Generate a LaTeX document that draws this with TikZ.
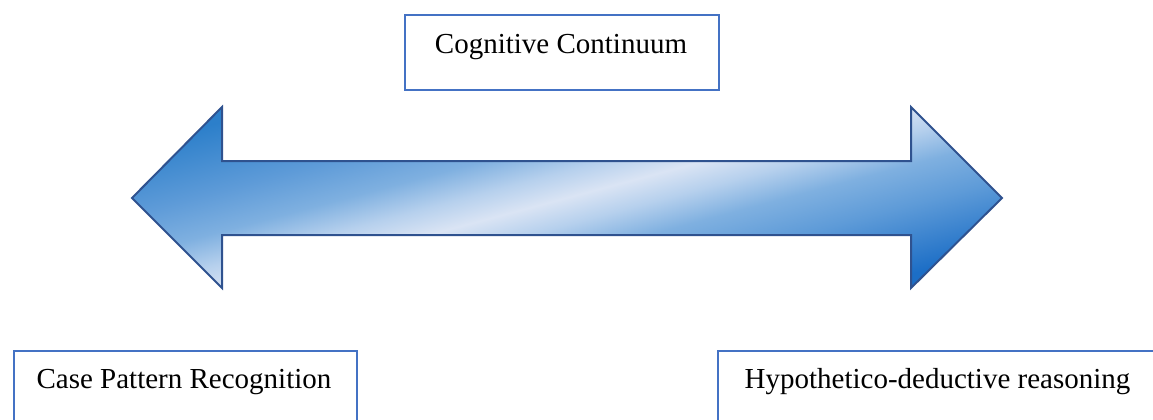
\documentclass[tikz,border=0pt]{standalone}
\usepackage{fontspec}
\setmainfont{Liberation Serif}
\definecolor{boxblue}{HTML}{4472C4}
\definecolor{arrline}{HTML}{2F528F}
\definecolor{arrdkL}{RGB}{44,127,202}
\definecolor{arrdkR}{RGB}{28,110,198}
\definecolor{arrmidB}{RGB}{94,155,216}
\definecolor{arrmidA}{RGB}{127,176,224}
\definecolor{arrpale}{RGB}{182,208,237}
\definecolor{arrlight}{RGB}{218,228,244}
% diagonal light band with darker blue towards both far corners
\pgfdeclarehorizontalshading{arrowfill}{100bp}{color(0bp)=(arrdkL); color(25bp)=(arrdkL);
  color(35.25bp)=(arrmidB); color(41.25bp)=(arrmidA); color(46bp)=(arrpale);
  color(50bp)=(arrlight);
  color(54bp)=(arrpale); color(58.75bp)=(arrmidA); color(64.75bp)=(arrmidB);
  color(75bp)=(arrdkR); color(100bp)=(arrdkR)}
\tikzset{
  textbox/.style={draw=boxblue, line width=2pt, fill=white, inner sep=0pt, anchor=north west},
  boxlabel/.style={anchor=base, inner sep=0pt, font=\fontsize{29}{34}\selectfont},
  bigarrow/.style={draw=arrline, line width=2pt, line join=miter, shading=arrowfill, shading angle=-75}
}
\begin{document}
\begin{tikzpicture}[x=1pt, y=-1pt]
  \useasboundingbox (0,0) rectangle (1153,420);
  \clip (0,0) rectangle (1153,420);

  % heading box
  \node[textbox, minimum width=314pt, minimum height=75pt] (cont) at (404,14) {};
  \node[boxlabel] (contlbl) at (561,53) {Cognitive Continuum};

  % double-headed arrow spanning the continuum
  \path[bigarrow] (132,198) -- (222,107) -- (222,161) -- (911,161) -- (911,107)
    -- (1002,198) -- (911,288) -- (911,235) -- (222,235) -- (222,288) -- cycle;

  % the two ends of the continuum
  \node[textbox, minimum width=343pt, minimum height=100pt] (cpr) at (13,350) {};
  \node[boxlabel] (cprlbl) at (184,388) {Case Pattern Recognition};

  \node[textbox, minimum width=441pt, minimum height=100pt] (hdr) at (717,350) {};
  \node[boxlabel] (hdrlbl) at (937.5,388) {Hypothetico-deductive reasoning};
\end{tikzpicture}
\end{document}
